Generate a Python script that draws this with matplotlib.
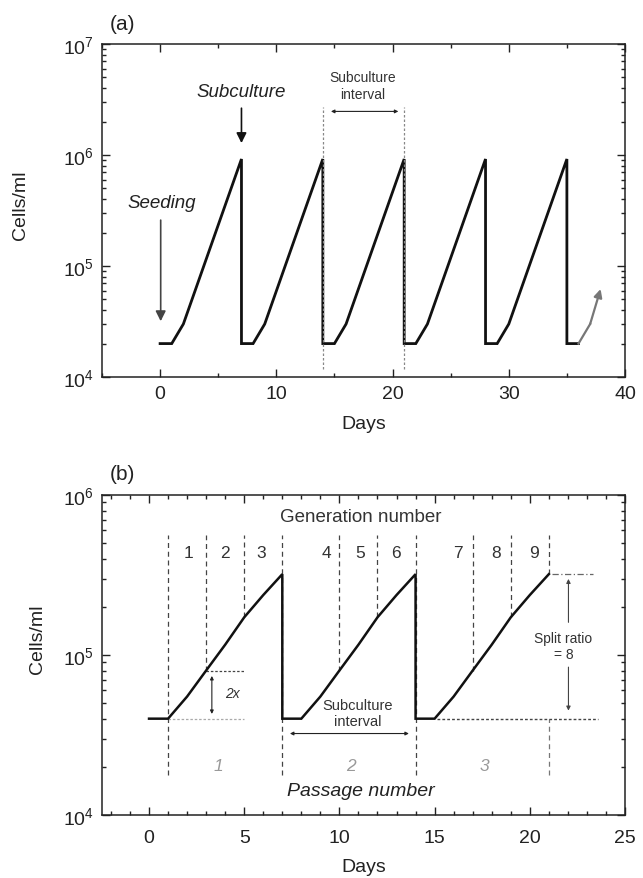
import numpy as np
import matplotlib
matplotlib.use('Agg')
import matplotlib.pyplot as plt
from matplotlib.ticker import MultipleLocator, LogLocator, NullFormatter

plt.rcParams['font.family'] = ['Liberation Sans', 'DejaVu Sans']

# ---- panel (a) data ----
a_days = [0, 1, 2, 7, 7, 8, 9, 14, 14, 15, 16, 21, 21, 22, 23, 28, 28, 29, 30, 35, 35, 36]
a_cells = [2e4, 2e4, 3e4, 9.2e5, 2e4, 2e4, 3e4, 9.2e5, 2e4, 2e4, 3e4, 9.2e5,
           2e4, 2e4, 3e4, 9.2e5, 2e4, 2e4, 3e4, 9.2e5, 2e4, 2e4]
a_tail_days = [36, 37]
a_tail_cells = [2e4, 3e4]
a_tail_tip = (37.9, 6.2e4)
a_interval_days = [14, 21]

# ---- panel (b) data ----
b_days = [0, 1, 2, 3, 4, 5, 6, 7, 7, 8, 9, 10, 11, 12, 13, 14,
          14, 15, 16, 17, 18, 19, 20, 21]
b_cells = [4e4, 4e4, 5.5e4, 8e4, 1.16e5, 1.72e5, 2.37e5, 3.2e5,
           4e4, 4e4, 5.5e4, 8e4, 1.16e5, 1.72e5, 2.37e5, 3.2e5,
           4e4, 4e4, 5.5e4, 8e4, 1.16e5, 1.72e5, 2.37e5, 3.2e5]
gen_line_days = [3, 5, 10, 12, 17, 19]
gen_line_low = [8e4, 1.72e5, 8e4, 1.72e5, 8e4, 1.72e5]
passage_line_days = [1, 7, 14]
gen_labels = ['1', '2', '3', '4', '5', '6', '7', '8', '9']
gen_label_days = [2.06, 3.97, 5.89, 9.31, 11.11, 12.95, 16.23, 18.24, 20.23]
passage_labels = ['1', '2', '3']
passage_label_days = [3.65, 10.62, 17.6]
seed_level = 4e4
peak_level = 3.2e5
line_top = 5.6e5
line_bottom = 1.78e4

W, H = 643, 879
fig = plt.figure(figsize=(W / 100, H / 100), dpi=100)
ax_a = fig.add_axes([102 / W, 1 - 378 / H, 523 / W, 333 / H])
ax_b = fig.add_axes([102 / W, 1 - 816 / H, 523 / W, 320 / H])


def style_axes(ax, xmaj, xmin, xpad):
    ax.set_yscale('log')
    ax.xaxis.set_major_locator(MultipleLocator(xmaj))
    ax.xaxis.set_minor_locator(MultipleLocator(xmin))
    ax.yaxis.set_minor_locator(LogLocator(base=10, subs=np.arange(2, 10)))
    ax.yaxis.set_minor_formatter(NullFormatter())
    ax.tick_params(which='both', direction='in', top=True, right=True,
                   width=1.0, color='#222222')
    ax.tick_params(which='major', length=5.5, labelsize=14, labelcolor='#222222')
    ax.tick_params(which='minor', length=3)
    ax.tick_params(axis='x', which='major', pad=xpad)
    ax.tick_params(axis='y', which='major', pad=6)
    for s in ax.spines.values():
        s.set_linewidth(1.1)
        s.set_color('#222222')


# ================= (a) =================
ax = ax_a
style_axes(ax, 10, 5, 6)
ax.set_xlim(-5, 40)
ax.set_ylim(1e4, 1e7)
ax.plot(a_days, a_cells, color='#111111', lw=2.0, solid_joinstyle='miter')
ax.plot(a_tail_days, a_tail_cells, color='#777777', lw=1.6)
ax.annotate('', xy=a_tail_tip, xytext=(a_tail_days[-1], a_tail_cells[-1]),
            arrowprops=dict(arrowstyle='-|>', color='#777777', lw=1.6,
                            mutation_scale=12, shrinkA=0, shrinkB=0))
for d in a_interval_days:
    ax.plot([d, d], [1.19e4, 2.7e6], color='#888888', lw=0.9, ls=(0, (2, 1.6)))
ax.annotate('', xy=(20.5, 2.47e6), xytext=(14.7, 2.47e6),
            arrowprops=dict(arrowstyle='<|-|>', color='#222222', lw=0.8,
                            mutation_scale=5, shrinkA=0, shrinkB=0))
ax.text(17.4, 4.2e6, 'Subculture\ninterval', ha='center', va='center',
        fontsize=10, color='#333333', linespacing=1.25)
ax.text(7.0, 3.7e6, 'Subculture', ha='center', va='center', fontsize=13.5,
        style='italic', color='#222222')
ax.annotate('', xy=(7.0, 1.28e6), xytext=(7.0, 2.64e6),
            arrowprops=dict(arrowstyle='-|>', color='#111111', lw=1.2,
                            mutation_scale=15, shrinkA=0, shrinkB=0))
ax.text(0.1, 3.75e5, 'Seeding', ha='center', va='center', fontsize=13.5,
        style='italic', color='#222222')
ax.annotate('', xy=(0.05, 3.18e4), xytext=(0.05, 2.59e5),
            arrowprops=dict(arrowstyle='-|>', color='#444444', lw=1.2,
                            mutation_scale=15, shrinkA=0, shrinkB=0))
ax.set_xlabel('Days', fontsize=14, color='#222222')
ax.xaxis.set_label_coords(0.5, -(425 - 378) / 333)
ax.xaxis.label.set_verticalalignment('center')
ax.set_ylabel('Cells/ml', fontsize=14, color='#222222')
ax.yaxis.set_label_coords(-0.156, 0.52)
ax.yaxis.label.set_verticalalignment('center')
ax.text(0.015, (378 - 25) / 333, '(a)', transform=ax.transAxes, ha='left',
        va='center', fontsize=15, color='#222222')

# ================= (b) =================
ax = ax_b
style_axes(ax, 5, 1, 10)
ax.set_xlim(-2.47, 25)
ax.set_ylim(1e4, 1e6)

# generation lines
for d, low in zip(gen_line_days, gen_line_low):
    ax.plot([d, d], [low, line_top], color='#444444', lw=0.9, ls=(0, (4, 3)))
# passage lines
for d in passage_line_days:
    ax.plot([d, d], [line_bottom, line_top], color='#444444', lw=0.9,
            ls=(0, (4, 3)))
ax.plot([21, 21], [peak_level, line_top], color='#444444', lw=0.9,
        ls=(0, (4, 3)))
ax.plot([21, 21], [line_bottom, seed_level], color='#777777', lw=0.9,
        ls=(0, (4, 3)))

# doubling (2x) markers
ax.plot([3, 5], [8e4, 8e4], color='#444444', lw=0.9, ls=(0, (2, 1.5)))
ax.plot([1, 5], [seed_level, seed_level], color='#aaaaaa', lw=0.9,
        ls=(0, (2, 1.5)))
ax.annotate('', xy=(3.3, 4.28e4), xytext=(3.3, 7.4e4),
            arrowprops=dict(arrowstyle='<|-|>', color='#222222', lw=0.8,
                            mutation_scale=5, shrinkA=0, shrinkB=0))
ax.text(4.36, 5.75e4, '2x', ha='center', va='center', fontsize=10,
        style='italic', color='#333333')

# split ratio markers
ax.plot([21.16, 23.3], [peak_level, peak_level], color='#666666', lw=0.9,
        ls=(0, (5, 2, 1, 2)))
ax.plot([15.1, 23.6], [seed_level, seed_level], color='#444444', lw=1.0,
        ls=(0, (2, 1.5)))
ax.annotate('', xy=(22.03, 2.99e5), xytext=(22.03, 1.6e5),
            arrowprops=dict(arrowstyle='-|>', color='#444444', lw=0.8,
                            mutation_scale=6, shrinkA=0, shrinkB=0))
ax.annotate('', xy=(22.03, 4.49e4), xytext=(22.03, 8.4e4),
            arrowprops=dict(arrowstyle='-|>', color='#444444', lw=0.8,
                            mutation_scale=6, shrinkA=0, shrinkB=0))
ax.text(21.77, 1.14e5, 'Split ratio\n= 8', ha='center', va='center',
        fontsize=10, color='#333333', linespacing=1.25)

# subculture interval
ax.annotate('', xy=(13.65, 3.23e4), xytext=(7.4, 3.23e4),
            arrowprops=dict(arrowstyle='<|-|>', color='#222222', lw=0.8,
                            mutation_scale=5, shrinkA=0, shrinkB=0))
ax.text(10.97, 4.34e4, 'Subculture\ninterval', ha='center', va='center',
        fontsize=10.5, color='#333333', linespacing=1.25)

ax.plot(b_days, b_cells, color='#111111', lw=1.8, solid_joinstyle='miter')

ax.text(11.1, 7.36e5, 'Generation number', ha='center', va='center',
        fontsize=13.5, color='#333333')
for lab, d in zip(gen_labels, gen_label_days):
    ax.text(d, 4.38e5, lab, ha='center', va='center', fontsize=12.5,
            color='#333333')
for lab, d in zip(passage_labels, passage_label_days):
    ax.text(d, 2.05e4, lab, ha='center', va='center', fontsize=12.5,
            style='italic', color='#999999')
ax.text(11.15, 1.43e4, 'Passage number', ha='center', va='center',
        fontsize=14, style='italic', color='#222222')

ax.set_xlabel('Days', fontsize=14, color='#222222')
ax.xaxis.set_label_coords(0.5, -(868 - 816) / 320)
ax.xaxis.label.set_verticalalignment('center')
ax.set_ylabel('Cells/ml', fontsize=14, color='#222222')
ax.yaxis.set_label_coords(-0.1226, 0.553)
ax.yaxis.label.set_verticalalignment('center')
ax.text(0.015, (816 - 475) / 320, '(b)', transform=ax.transAxes, ha='left',
        va='center', fontsize=15, color='#222222')

fig.savefig('out.png', dpi=100)
